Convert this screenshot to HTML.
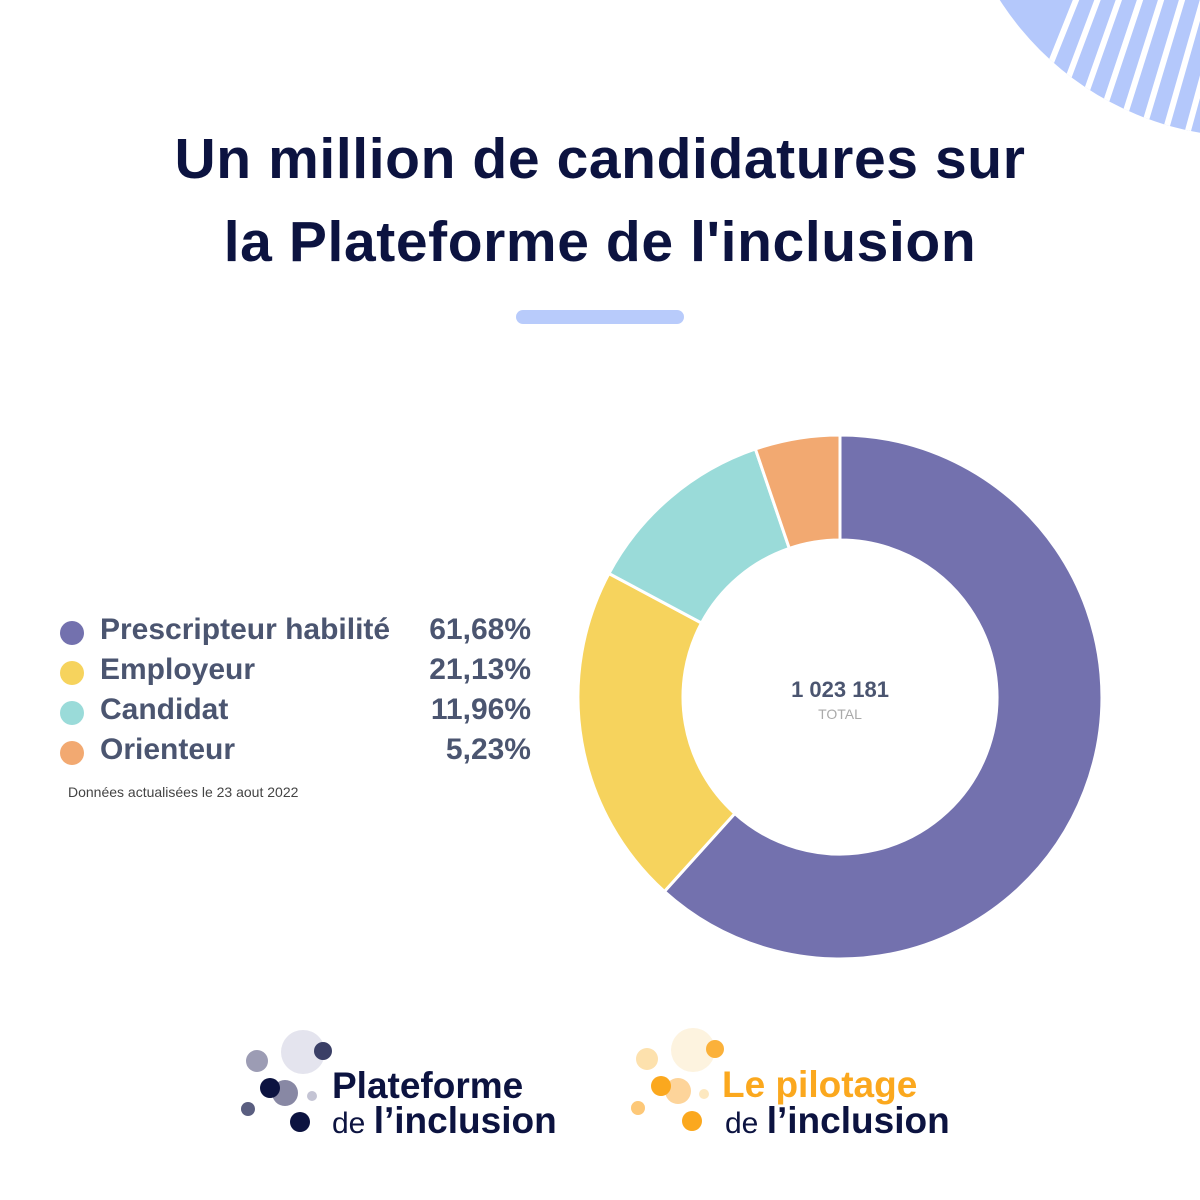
<!DOCTYPE html>
<html><head><meta charset="utf-8"><style>
body{margin:0;background:#fff;}
.w{position:relative;width:1200px;height:1200px;overflow:hidden;background:#fff;font-family:"Liberation Sans",sans-serif;}
h1{position:absolute;left:0;width:1200px;top:118px;margin:0;text-align:center;font-size:57px;line-height:83px;font-weight:bold;color:#0c1340;letter-spacing:0.6px;}
.bar{position:absolute;left:516px;top:310px;width:168px;height:14px;border-radius:7px;background:#b8cbfb;}
.leg{position:absolute;left:58px;font-size:30px;color:#4b5570;font-weight:bold;}
.row{position:absolute;left:0;width:473px;height:40px;}
.dot{position:absolute;left:2px;top:8px;width:24px;height:24px;border-radius:50%;}
.lab{position:absolute;left:42px;top:0;}
.val{position:absolute;right:0;top:0;}
.note{position:absolute;left:68px;top:784px;font-size:14px;color:#444;}
</style></head><body><div class="w">
<svg width="1200" height="1200" style="position:absolute;left:0;top:0">
<defs><clipPath id="c"><circle cx="1250" cy="-160" r="297"/></clipPath></defs>
<g clip-path="url(#c)">
<rect x="900" y="-200" width="400" height="400" fill="#b4c8fb"/>
<g stroke="#fff" stroke-width="6">
<line x1="1040" y1="90" x2="1100" y2="-60"/>
<line x1="1060" y1="100" x2="1120" y2="-60"/>
<line x1="1080" y1="110" x2="1140" y2="-60"/>
<line x1="1100" y1="120" x2="1160" y2="-60"/>
<line x1="1120" y1="130" x2="1180" y2="-60"/>
<line x1="1140" y1="140" x2="1200" y2="-60"/>
<line x1="1160" y1="150" x2="1220" y2="-60"/>
<line x1="1180" y1="160" x2="1240" y2="-60"/>
<line x1="1200" y1="170" x2="1260" y2="-60"/>
</g></g>
<g stroke="#fff" stroke-width="3" stroke-linejoin="round">
<path d="M840 435 A262 262 0 1 1 664.4 891.5 L734.8 813.5 A157 157 0 1 0 840 540 Z" fill="#7371ae"/>
<path d="M664.4 891.5 A262 262 0 0 1 608.9 573.5 L701.5 623 A157 157 0 0 0 734.8 813.5 Z" fill="#f6d35d"/>
<path d="M608.9 573.5 A262 262 0 0 1 755.4 449 L789.3 548.4 A157 157 0 0 0 701.5 623 Z" fill="#9adbd9"/>
<path d="M755.4 449 A262 262 0 0 1 840 435 L840 540 A157 157 0 0 0 789.3 548.4 Z" fill="#f2a971"/>
</g>
<text x="840" y="697" text-anchor="middle" font-family="Liberation Sans" font-weight="bold" font-size="22" fill="#4b5570">1 023 181</text>
<text x="840" y="719" text-anchor="middle" font-family="Liberation Sans" font-size="14" fill="#aaa">TOTAL</text>
<circle cx="303" cy="1052" r="22" fill="#e4e4ee"/>
<circle cx="257" cy="1061" r="11" fill="#9c9cb4"/>
<circle cx="323" cy="1051" r="9" fill="#3a3f66"/>
<circle cx="285" cy="1093" r="13" fill="#8888a4"/>
<circle cx="270" cy="1088" r="10" fill="#0c1340"/>
<circle cx="312" cy="1096" r="5" fill="#c4c4d4"/>
<circle cx="248" cy="1109" r="7" fill="#5a5e80"/>
<circle cx="300" cy="1122" r="10" fill="#0c1340"/>
<text x="332" y="1098" font-family="Liberation Sans" font-weight="bold" font-size="37" fill="#0c1340">Plateforme</text>
<text x="332" y="1133" font-family="Liberation Sans" font-size="30" fill="#0c1340">de <tspan font-weight="bold" font-size="37">l’inclusion</tspan></text>
<circle cx="693" cy="1050" r="22" fill="#fdf3df"/>
<circle cx="647" cy="1059" r="11" fill="#fde1ad"/>
<circle cx="715" cy="1049" r="9" fill="#fbb13a"/>
<circle cx="678" cy="1091" r="13" fill="#fdd49a"/>
<circle cx="661" cy="1086" r="10" fill="#fba81e"/>
<circle cx="704" cy="1094" r="5" fill="#fde8c0"/>
<circle cx="638" cy="1108" r="7" fill="#fdc878"/>
<circle cx="692" cy="1121" r="10" fill="#fba81e"/>
<text x="722" y="1097" font-family="Liberation Sans" font-weight="bold" font-size="37" fill="#fba81e">Le pilotage</text>
<text x="725" y="1133" font-family="Liberation Sans" font-size="30" fill="#0c1340">de <tspan font-weight="bold" font-size="37">l’inclusion</tspan></text>
</svg>
<h1>Un million de candidatures sur<br>la Plateforme de l'inclusion</h1>
<div class="bar"></div>
<div class="leg" style="top:613px;width:473px;">
<div class="row" style="top:0"><div class="dot" style="background:#7371ae"></div><span class="lab">Prescripteur habilité</span><span class="val">61,68%</span></div>
<div class="row" style="top:40px"><div class="dot" style="background:#f6d35d"></div><span class="lab">Employeur</span><span class="val">21,13%</span></div>
<div class="row" style="top:80px"><div class="dot" style="background:#9adbd9"></div><span class="lab">Candidat</span><span class="val">11,96%</span></div>
<div class="row" style="top:120px"><div class="dot" style="background:#f2a971"></div><span class="lab">Orienteur</span><span class="val">5,23%</span></div>
</div>
<div class="note">Données actualisées le 23 aout 2022</div>
</div></body></html>
